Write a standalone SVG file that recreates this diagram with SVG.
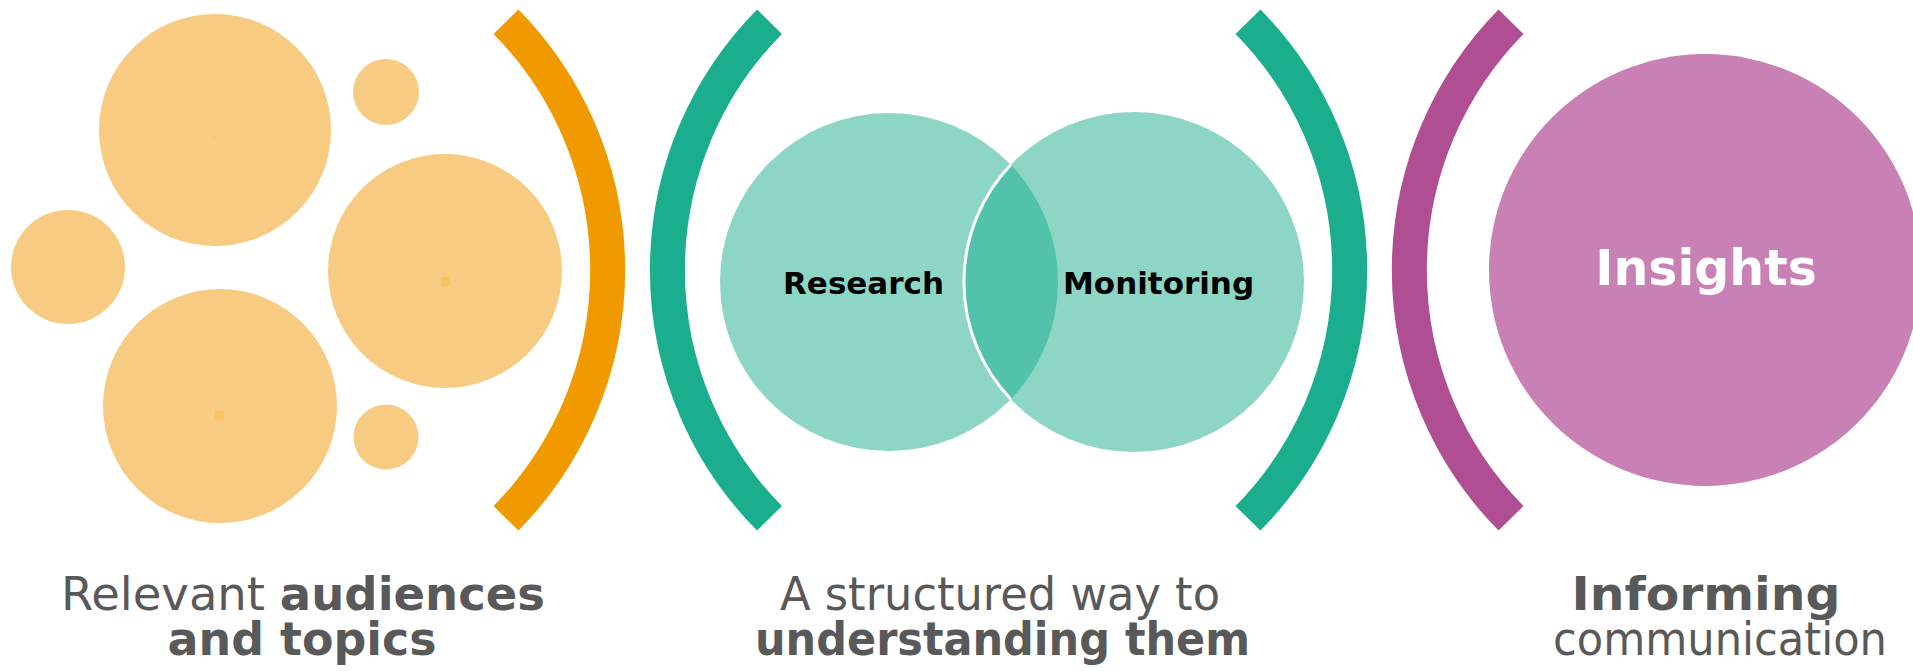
<svg xmlns="http://www.w3.org/2000/svg" width="1913" height="671" viewBox="0 0 1913 671">
  <style>
    .lo { fill: #F7CB82; }
    .dot { fill: #F8C363; }
    .br { fill: none; stroke-width: 35; stroke-linecap: butt; }
    .or { stroke: #F09A00; }
    .tl { stroke: #1BAE8E; }
    .pu { stroke: #B04E94; }
    .tc { fill: #8DD6C6; }
    .lbl { font-family: "DejaVu Sans", Verdana, sans-serif; font-weight: bold; font-size: 31px; fill: #000; }
    .cap { font-family: "DejaVu Sans", Verdana, sans-serif; font-size: 47px; fill: #595959; text-anchor: middle; }
    .b { font-weight: bold; }
  </style>
  <rect width="1913" height="671" fill="#FFFFFF"/>

  <g id="audiences">
    <circle class="lo" cx="215" cy="130" r="116"/>
    <circle class="lo" cx="386" cy="92" r="33"/>
    <circle class="lo" cx="68" cy="267" r="57"/>
    <circle class="lo" cx="445" cy="271" r="117"/>
    <circle class="lo" cx="220" cy="406" r="117"/>
    <circle class="lo" cx="386" cy="437" r="32.5"/>
    <rect class="dot" x="213" y="135" width="4" height="4" opacity="0.6"/>
    <rect class="dot" x="441" y="277" width="9" height="9"/>
    <rect class="dot" x="215" y="411" width="9" height="9"/>
  </g>

  <g id="venn">
    <circle class="tc" cx="889" cy="282" r="169"/>
    <circle class="tc" cx="1134" cy="282" r="170"/>
    <path d="M 1010.8 164.8 A 169 169 0 0 1 1010.8 399.2 A 170 170 0 0 1 1010.8 164.8 Z" fill="#52C2AA"/>
    <path d="M 1010.8 399.2 A 170 170 0 0 1 1010.8 164.8" fill="none" stroke="#FFFFFF" stroke-width="3"/>
    <text class="lbl" x="783" y="294">Research</text>
    <text class="lbl" x="1063" y="294">Monitoring</text>
  </g>

  <g id="insights">
    <circle cx="1705" cy="270" r="216" fill="#C981B5"/>
    <text x="1706" y="285" font-family="'DejaVu Sans', Verdana, sans-serif" font-weight="bold" font-size="49" fill="#FFFFFF" text-anchor="middle">Insights</text>
  </g>

  <g id="connectors">
    <path class="br or" d="M 506 21.7 A 354 354 0 0 1 506 518.3"/>
    <path class="br tl" d="M 769.5 21.7 A 353 353 0 0 0 769.5 518.3"/>
    <path class="br tl" d="M 1248 21.7 A 354 354 0 0 1 1248 518.3"/>
    <path class="br pu" d="M 1511 21.7 A 354 354 0 0 0 1511 518.3"/>
  </g>

  <g id="captions">
    <text class="cap" x="303" y="610" textLength="484" lengthAdjust="spacingAndGlyphs">Relevant <tspan class="b">audiences</tspan></text>
    <text class="cap b" x="302" y="655" textLength="269" lengthAdjust="spacingAndGlyphs">and topics</text>
    <text class="cap" x="1000" y="610" textLength="440" lengthAdjust="spacingAndGlyphs">A structured way to</text>
    <text class="cap b" x="1002.5" y="655" textLength="495" lengthAdjust="spacingAndGlyphs">understanding them</text>
    <text class="cap b" x="1706" y="610" textLength="269" lengthAdjust="spacingAndGlyphs">Informing</text>
    <text class="cap" x="1720" y="655" textLength="334" lengthAdjust="spacingAndGlyphs">communication</text>
  </g>
</svg>
